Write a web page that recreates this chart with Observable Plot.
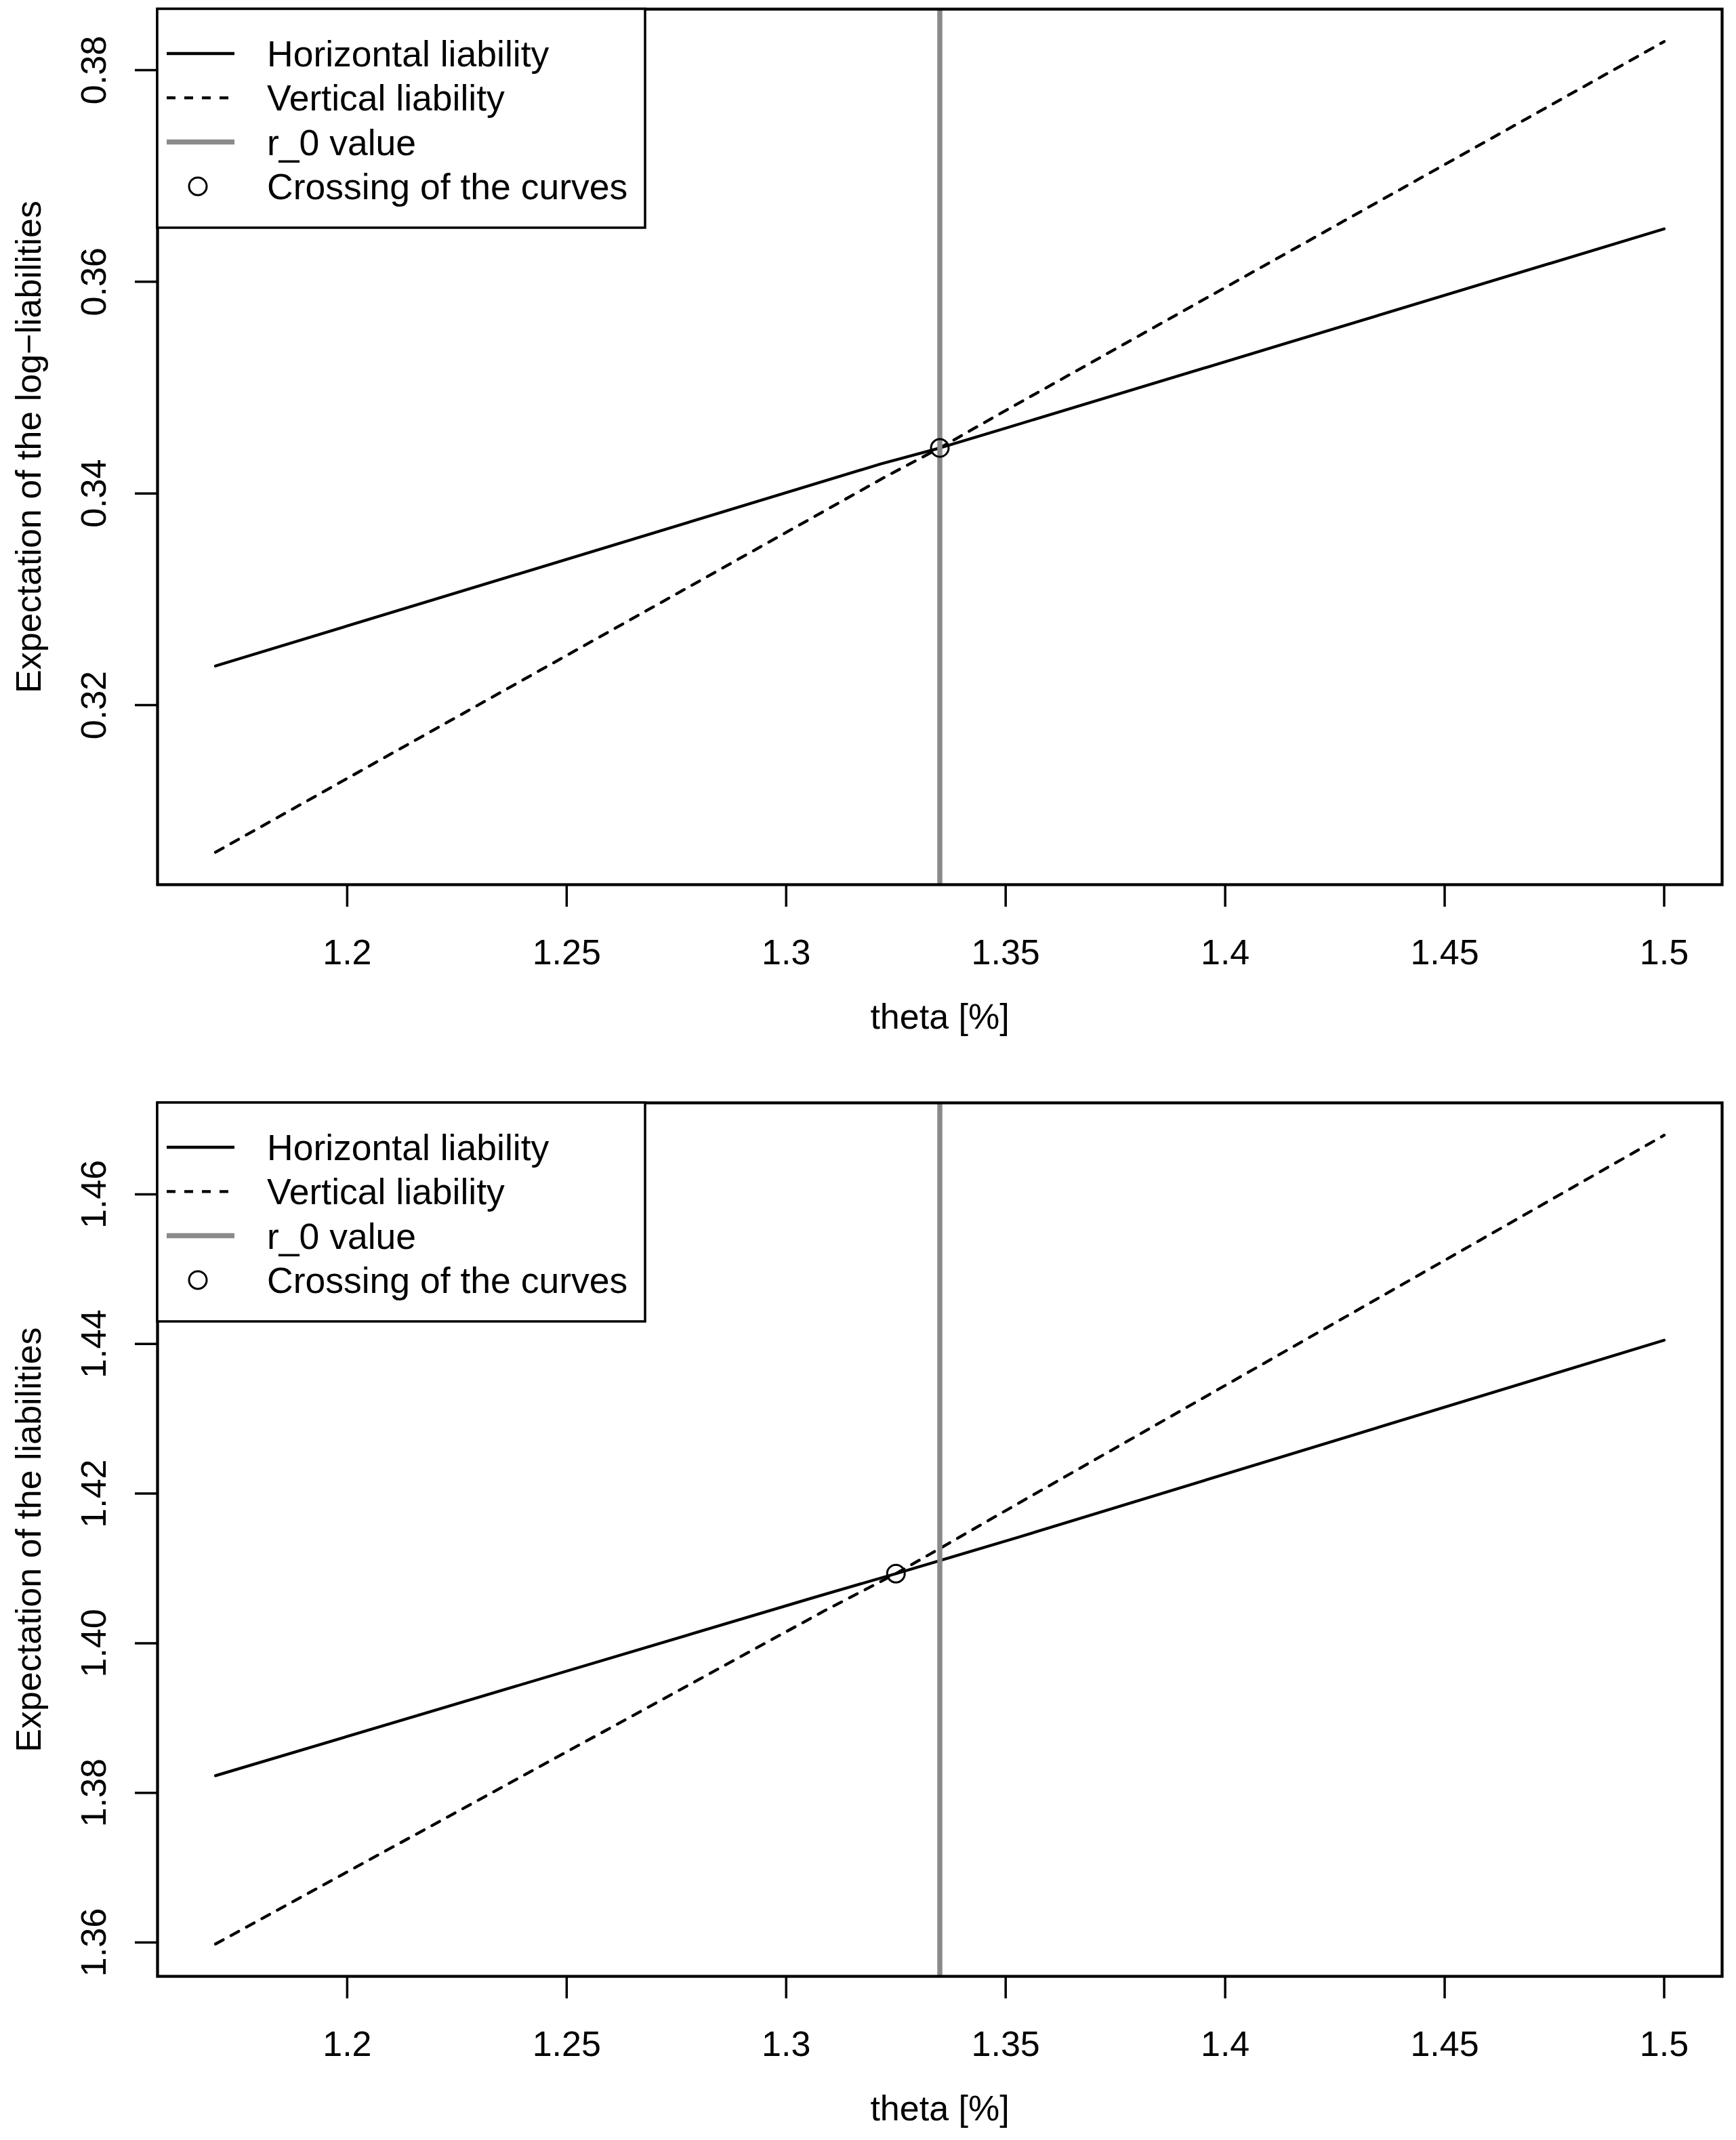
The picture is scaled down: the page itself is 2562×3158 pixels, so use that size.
<!DOCTYPE html>
<html>
<head>
<meta charset="utf-8">
<script src="https://cdn.jsdelivr.net/npm/d3@7"></script>
<script src="https://cdn.jsdelivr.net/npm/@observablehq/plot@0.6"></script>
<style>
  html, body { margin: 0; padding: 0; background: white; }
  svg { display: block; }
</style>
</head>
<body>
<div id="chart"></div>
<script>
// ---------- data ----------
const xTicks = [1.2, 1.25, 1.3, 1.35, 1.4, 1.45, 1.5];
const xTickLabels = ["1.2", "1.25", "1.3", "1.35", "1.4", "1.45", "1.5"];
const xLabel = "theta [%]";

const legendLabels = ["Horizontal liability", "Vertical liability", "r_0 value", "Crossing of the curves"];

const r0 = 1.335;

// top panel: expectation of the log-liabilities
const topHorizTheta = [1.17, 1.3216, 1.335, 1.3494, 1.5];
const topHorizValue = [0.3237, 0.3428, 0.3443, 0.3461, 0.3650];
const topVertTheta  = [1.17, 1.3227, 1.335, 1.3481, 1.5];
const topVertValue  = [0.3061, 0.3416, 0.3443, 0.3474, 0.3827];
const topCross = [1.335, 0.3443];
const topYTicks = [0.32, 0.34, 0.36, 0.38];
const topYTickLabels = ["0.32", "0.34", "0.36", "0.38"];
const topYLabel = "Expectation of the log\u2212liabilities";

// bottom panel: expectation of the liabilities
const botHorizTheta = [1.17, 1.3062, 1.325, 1.3525, 1.5];
const botHorizValue = [1.3823, 1.4061, 1.4093, 1.4141, 1.4405];
const botVertTheta  = [1.17, 1.3086, 1.325, 1.352, 1.5];
const botVertValue  = [1.3598, 1.4043, 1.4093, 1.4184, 1.4679];
const botCross = [1.325, 1.4093];
const botYTicks = [1.36, 1.38, 1.40, 1.42, 1.44, 1.46];
const botYTickLabels = ["1.36", "1.38", "1.40", "1.42", "1.44", "1.46"];
const botYLabel = "Expectation of the liabilities";

// ---------- helpers ----------
const FONT = "'Liberation Sans', Arial, Helvetica, sans-serif";
const FS = 52;
const W = 2562;
const ML = 232, MR = 21;

function rPad(values) {
  const [a, b] = d3.extent(values);
  const p = (b - a) * 0.04;
  return [a - p, b + p];
}
const xDomain = rPad([...topHorizTheta, ...topVertTheta, ...botHorizTheta, ...botVertTheta]);

function zip(xs, ys) { return xs.map((x, i) => ({theta: x, value: ys[i]})); }

function panel(o) {
  const hData = zip(o.hx, o.hy);
  const vData = zip(o.vx, o.vy);
  const cross = [{theta: o.cross[0], value: o.cross[1]}];
  const yDomain = rPad([...o.hy, ...o.vy]);
  const svg = Plot.plot({
    width: W,
    height: o.height,
    marginTop: o.marginTop,
    marginBottom: o.marginBottom,
    marginLeft: ML,
    marginRight: MR,
    style: {fontFamily: FONT, fontSize: FS + "px", background: "white", color: "black"},
    x: {domain: xDomain},
    y: {domain: yDomain},
    marks: [
      Plot.line(hData, {x: "theta", y: "value", stroke: "black", strokeWidth: 4.3}),
      Plot.line(vData, {x: "theta", y: "value", stroke: "black", strokeWidth: 4.3, strokeDasharray: "13,13"}),
      Plot.ruleX([r0], {stroke: "#8a8a8a", strokeWidth: 7.5}),
      Plot.dot(cross, {x: "theta", y: "value", r: 13, stroke: "black", strokeWidth: 3, fill: "none"}),
      Plot.frame({stroke: "black", strokeWidth: 4.3}),
      Plot.axisX({ticks: xTicks, tickSize: 33, strokeWidth: 3.5, text: null, label: null}),
      Plot.text(xTicks, {x: d => d, text: (d, i) => xTickLabels[i], frameAnchor: "bottom", dy: 117, lineAnchor: "bottom", fontSize: FS}),
      Plot.text([xLabel], {frameAnchor: "bottom", dy: 212, lineAnchor: "bottom", fontSize: FS}),
      Plot.axisY({ticks: o.yTicks, tickSize: 33, strokeWidth: 3.5, text: null, label: null}),
      Plot.text(o.yTicks, {y: d => d, text: (d, i) => o.yTickLabels[i], frameAnchor: "left", dx: -77, rotate: -90, lineAnchor: "bottom", textAnchor: "middle", fontSize: FS}),
      Plot.text([o.yLabel], {frameAnchor: "left", dx: -173, rotate: -90, lineAnchor: "bottom", textAnchor: "middle", fontSize: FS})
    ]
  });

  // legend (top-left inside the plot frame)
  const g = d3.select(svg).append("g")
    .attr("transform", `translate(${ML},${o.marginTop})`);
  g.append("rect").attr("x", 0).attr("y", 0).attr("width", 720).attr("height", 323)
    .attr("fill", "white").attr("stroke", "black").attr("stroke-width", 3.5);
  const rowY = i => 66 + i * 65.3;
  const samples = [
    {stroke: "black", width: 4.3, dash: null},
    {stroke: "black", width: 4.3, dash: "13,13"},
    {stroke: "#8a8a8a", width: 7.5, dash: null}
  ];
  samples.forEach((s, i) => {
    g.append("line").attr("x1", 14).attr("x2", 114).attr("y1", rowY(i)).attr("y2", rowY(i))
      .attr("stroke", s.stroke).attr("stroke-width", s.width)
      .attr("stroke-dasharray", s.dash);
  });
  g.append("circle").attr("cx", 60).attr("cy", rowY(3)).attr("r", 13)
    .attr("fill", "none").attr("stroke", "black").attr("stroke-width", 3);
  legendLabels.forEach((t, i) => {
    g.append("text").attr("x", 162).attr("y", rowY(i) + 19)
      .attr("text-anchor", "start")
      .attr("font-family", FONT).attr("font-size", 53.5).attr("fill", "black")
      .text(t);
  });
  return svg;
}

const chart = document.getElementById("chart");
chart.appendChild(panel({
  height: 1612, marginTop: 13, marginBottom: 307,
  hx: topHorizTheta, hy: topHorizValue, vx: topVertTheta, vy: topVertValue,
  cross: topCross, yTicks: topYTicks, yTickLabels: topYTickLabels, yLabel: topYLabel
}));
chart.appendChild(panel({
  height: 1546, marginTop: 15, marginBottom: 242,
  hx: botHorizTheta, hy: botHorizValue, vx: botVertTheta, vy: botVertValue,
  cross: botCross, yTicks: botYTicks, yTickLabels: botYTickLabels, yLabel: botYLabel
}));
</script>
</body>
</html>
